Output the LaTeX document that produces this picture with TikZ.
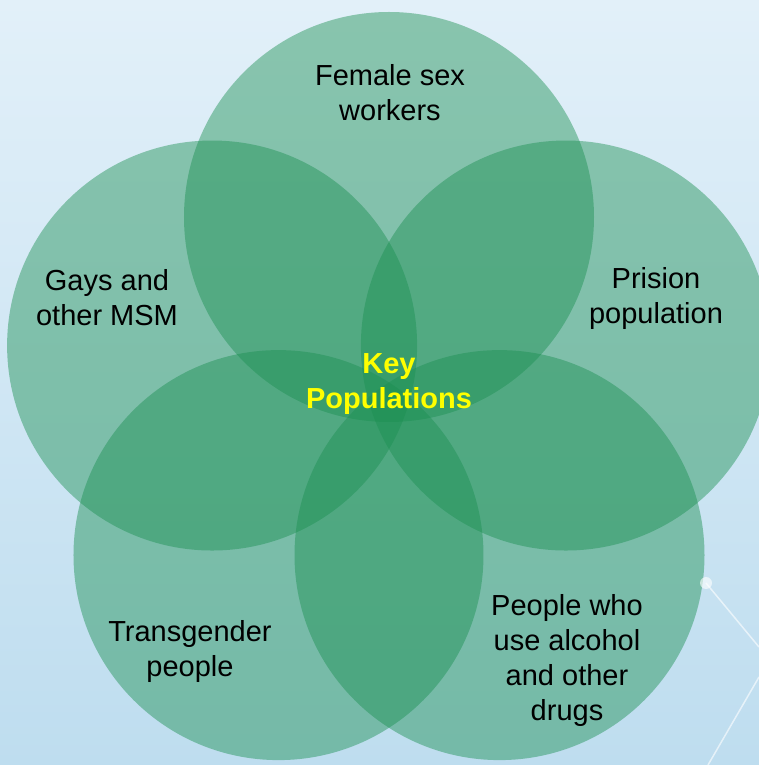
\documentclass[tikz,border=0pt]{standalone}
\usepackage{fontspec}
\setmainfont{Liberation Sans}
\usetikzlibrary{positioning}
\definecolor{petalgreen}{RGB}{28,144,82}
\definecolor{bgtop}{RGB}{226,240,249}
\definecolor{bgbot}{RGB}{190,221,239}
\definecolor{keyyellow}{RGB}{255,255,0}
\tikzstyle{petal}=[circle,fill=petalgreen,fill opacity=.45,minimum size=410pt,inner sep=0pt]
\tikzstyle{grouptext}=[align=center,font=\fontsize{29}{35}\selectfont]
\tikzstyle{deco}=[white,opacity=.6,line width=1.5pt]

\begin{document}
\begin{tikzpicture}[x=1pt,y=1pt]
    \useasboundingbox (-389,-362) rectangle (370,403);
    \fill[top color=bgtop,bottom color=bgbot] (-389,-362) rectangle (370,403);
    % five overlapping groups
    \node[petal] (female) at (90:186) {};
    \node[petal] (gays) at (162:186) {};
    \node[petal] (prison) at (18:186) {};
    \node[petal] (trans) at (234:188) {};
    \node[petal] (drugs) at (306:188) {};
    % texts
    \node[grouptext] (femaletxt) at (1,310) {Female sex\\workers};
    \node[grouptext] (gaystxt) at (-282,105) {Gays and\\other MSM};
    \node[grouptext] (prisontxt) at (267,104) {Prision\\population};
    \node[grouptext] (transtxt) at (-199,-248) {Transgender\\people};
    \node[grouptext] (drugstxt) at (178,-257) {People who\\use alcohol\\and other\\drugs};
    \node[grouptext, font=\fontsize{29}{35}\selectfont\bfseries, text=keyyellow] (key) at (0,19) {Key\\Populations};
    % corner decoration
    \fill[deco] (317,-180) circle (6);
    \draw[deco] (317,-180) -- (370,-244);
    \draw[deco] (370,-274) -- (319,-362);
\end{tikzpicture}
\end{document}
